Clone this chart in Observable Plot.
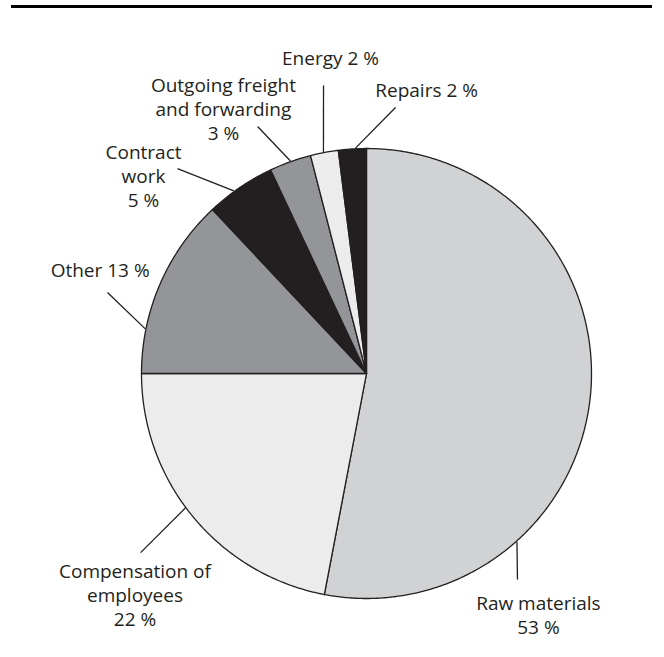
<!DOCTYPE html>
<html><head><meta charset="utf-8">
<script src="https://cdn.jsdelivr.net/npm/d3@7"></script>
<script src="https://cdn.jsdelivr.net/npm/@observablehq/plot@0.6"></script>
<style>
body{margin:0;background:#fff;}
#wrap{position:relative;width:664px;height:657px;overflow:hidden;}
#rule{position:absolute;left:11px;top:5px;width:641px;height:0;border-top:3px solid #000;}
#chart svg{display:block;}
</style></head><body>
<div id="wrap"><div id="chart"></div><div id="rule"></div></div>
<script>
// ---- data ----
const categories = ["Raw materials","Compensation of employees","Other","Contract work","Outgoing freight and forwarding","Energy","Repairs"];
const shares = [53, 22, 13, 5, 3, 2, 2];
const labels = ["Raw materials\n53 %","Compensation of\nemployees\n22 %","Other 13 %","Contract\nwork\n5 %","Outgoing freight\nand forwarding\n3 %","Energy 2 %","Repairs 2 %"];
const fills = ["#d1d2d4","#ececed","#939598","#231f20","#939598","#ececed","#231f20"];

// ---- layout (unit-circle coordinates; angles in degrees clockwise from top) ----
const labelX = [0.764, -1.029, -0.964, -0.991, -0.636, -0.160, 0.267];
const labelY = [-1.156, -1.124, 0.427, 0.742, 1.036, 1.373, 1.227];
const labelAnchor = ["middle","middle","end","middle","middle","middle","middle"];
const leaderAngle = [138.2, 233.4, 281.4, 324.0, 340.3, 349.0, 357.2];
const leaderX = [0.671, -1.004, -1.151, -0.840, -0.484, -0.191, 0.129];
const leaderY = [-0.916, -0.796, 0.360, 0.911, 1.098, 1.280, 1.182];

// ---- build slice polygons ----
const arcs = d3.pie().sort(null).value(d => d)(shares);
const slicePts = [];
arcs.forEach((a, i) => {
  const name = categories[i];
  slicePts.push({name, x: 0, y: 0});
  const n = Math.max(2, Math.ceil((a.endAngle - a.startAngle) / (Math.PI / 360)));
  for (let k = 0; k <= n; k++) {
    const t = a.startAngle + (a.endAngle - a.startAngle) * k / n;
    slicePts.push({name, x: Math.sin(t), y: Math.cos(t)});
  }
  slicePts.push({name, x: 0, y: 0});
});

const leaders = categories.map((c, i) => {
  const t = leaderAngle[i] * Math.PI / 180;
  return {name: c, x1: leaderX[i], y1: leaderY[i], x2: Math.sin(t) * 1.003, y2: Math.cos(t) * 1.003};
});
const textData = categories.map((c, i) => ({name: c, text: labels[i], x: labelX[i], y: labelY[i], anchor: labelAnchor[i]}));

const fontSize = 19;
const textOpts = {x: "x", y: "y", text: "text", lineAnchor: "bottom", lineHeight: 24 / fontSize,
  fontSize, fill: "#231f20"};

const chart = Plot.plot({
  width: 664,
  height: 657,
  margin: 0,
  x: {domain: [-1, 1], range: [141, 591], axis: null},
  y: {domain: [-1, 1], range: [598, 148], axis: null},
  color: {domain: categories, range: fills},
  style: {fontFamily: "'Open Sans', sans-serif", background: "#fff", overflow: "visible"},
  marks: [
    Plot.line(slicePts, {x: "x", y: "y", z: "name", fill: "name", stroke: "#231f20", strokeWidth: 1.3, strokeLinejoin: "round"}),
    Plot.link(leaders, {x1: "x1", y1: "y1", x2: "x2", y2: "y2", stroke: "#231f20", strokeWidth: 1.3}),
    Plot.text(textData.filter(d => d.anchor === "middle"), {...textOpts, textAnchor: "middle"}),
    Plot.text(textData.filter(d => d.anchor === "end"), {...textOpts, textAnchor: "end"})
  ]
});
document.getElementById("chart").appendChild(chart);
</script>
</body></html>
